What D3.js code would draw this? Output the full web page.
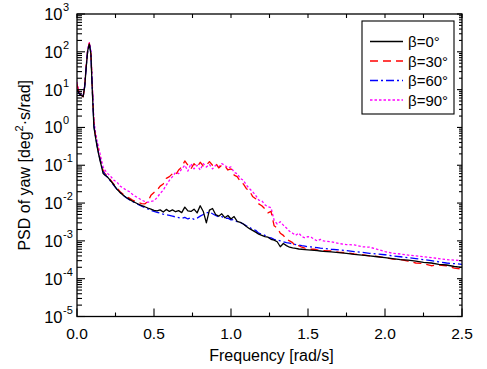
<!DOCTYPE html>
<html><head><meta charset="utf-8">
<script src="https://cdn.jsdelivr.net/npm/d3@7"></script>
<style>body{margin:0;background:#fff}svg{display:block;font-family:"Liberation Sans",Arial,sans-serif}</style>
</head><body><svg id="c" width="487" height="369"></svg>
<script>
const freq = [0,0.01,0.02,0.03,0.04,0.05,0.06,0.07,0.08,0.09,0.10,0.11,0.12,0.13,0.14,0.15,0.16,0.17,0.18,
0.20,0.22,0.24,0.26,0.28,0.30,0.32,0.34,0.36,0.38,0.40,0.42,0.44,0.46,0.48,0.50,0.52,0.54,0.56,0.58,0.60,
0.62,0.64,0.66,0.68,0.70,0.72,0.74,0.76,0.78,0.80,0.82,0.84,0.86,0.88,0.90,0.92,0.94,0.96,0.98,1.00,
1.02,1.04,1.06,1.08,1.10,1.12,1.14,1.16,1.18,1.20,1.22,1.24,1.26,1.28,1.30,1.32,1.34,1.36,1.38,1.40,
1.42,1.44,1.46,1.48,1.50,1.52,1.54,1.56,1.58,1.60,1.65,1.70,1.75,1.80,1.85,1.90,1.95,2.00,2.05,2.10,
2.15,2.20,2.25,2.30,2.35,2.40,2.45,2.50];

const beta0 = [10,8.5,7.5,7.0,6.5,12,40,110,160,90,8,1.0,0.55,0.32,0.2,0.13,0.09,0.06,0.055,
0.048,0.038,0.03,0.023,0.019,0.016,0.014,0.0125,0.0112,0.0102,0.0093,0.0086,0.008,0.0074,0.0069,0.0064,0.0062,0.0066,0.0058,0.0068,0.0060,
0.0066,0.0059,0.0063,0.0056,0.0078,0.0062,0.0060,0.0069,0.0055,0.0085,0.0060,0.0030,0.0065,0.0072,0.0050,0.0045,0.0052,0.0041,0.0047,0.0038,
0.0044,0.0033,0.0031,0.0028,0.0024,0.0021,0.0019,0.0017,0.0015,0.0014,0.0013,0.00125,0.0011,0.00105,0.00095,0.0007,0.00085,0.00075,0.00068,0.00065,
0.00063,0.00061,0.0006,0.00059,0.00058,0.00057,0.00056,0.00055,0.00054,0.00053,0.00051,0.00049,0.00047,0.00044,0.00042,0.0004,0.00038,0.00036,0.00034,0.00032,
0.00031,0.00029,0.00027,0.00026,0.00024,0.00023,0.00021,0.0002];

const beta30 = [14,9,7.5,7,6.5,12,45,120,170,100,10,1.2,0.62,0.36,0.23,0.15,0.1,0.072,0.062,
0.05,0.04,0.031,0.025,0.02,0.017,0.015,0.0135,0.012,0.011,0.0102,0.0097,0.0095,0.011,0.016,0.019,0.022,0.028,0.032,0.045,0.05,
0.06,0.055,0.075,0.09,0.13,0.1,0.08,0.11,0.09,0.12,0.095,0.1,0.125,0.1,0.115,0.085,0.1,0.095,0.075,0.08,
0.055,0.05,0.038,0.032,0.024,0.021,0.015,0.013,0.0095,0.0085,0.007,0.0055,0.006,0.0025,0.0022,0.0016,0.0014,0.0011,0.001,0.0009,
0.0007,0.00075,0.00068,0.00064,0.00062,0.0006,0.0006,0.00058,0.00056,0.00055,0.00054,0.0005,0.00049,0.00045,0.00043,0.0004,0.00039,0.00036,0.00033,0.00032,
0.00029,0.00026,0.00025,0.00022,0.00023,0.00022,0.00019,0.00018];

const beta60 = [10,8,7.5,7,6.5,12,42,115,165,95,9,1.1,0.6,0.34,0.21,0.14,0.095,0.068,0.058,
0.047,0.037,0.029,0.023,0.019,0.016,0.0138,0.0122,0.011,0.01,0.0091,0.0083,0.0076,0.007,0.0064,0.006,0.0057,0.0054,0.0051,0.0049,0.0047,
0.0045,0.0043,0.0041,0.0039,0.0042,0.0038,0.0041,0.0037,0.0040,0.0045,0.0050,0.0055,0.0058,0.0052,0.0047,0.0043,0.0044,0.0039,0.0040,0.0036,
0.0037,0.0032,0.0031,0.0028,0.0025,0.0023,0.002,0.0019,0.0016,0.0015,0.0014,0.00125,0.0012,0.0011,0.00105,0.001,0.00095,0.0009,0.00087,0.00083,
0.0008,0.00078,0.00075,0.00073,0.0007,0.00069,0.00067,0.00066,0.00064,0.00063,0.0006,0.00058,0.00055,0.00052,0.0005,0.00047,0.00045,0.00043,0.0004,0.00038,
0.00036,0.00034,0.00032,0.0003,0.00028,0.00026,0.00025,0.00024];

const beta90 = [16,10,8,7,7,13,45,120,175,110,12,1.5,0.75,0.45,0.3,0.2,0.13,0.09,0.075,
0.06,0.05,0.04,0.036,0.028,0.025,0.022,0.02,0.017,0.015,0.0135,0.012,0.011,0.0105,0.011,0.0115,0.014,0.018,0.022,0.03,0.04,
0.05,0.065,0.06,0.08,0.1,0.07,0.11,0.08,0.1,0.075,0.11,0.09,0.105,0.08,0.1,0.09,0.11,0.1,0.085,0.09,
0.065,0.06,0.045,0.04,0.03,0.024,0.02,0.016,0.012,0.0115,0.009,0.008,0.0075,0.0035,0.0028,0.0032,0.0026,0.0022,0.0018,0.0016,
0.0014,0.0016,0.0013,0.0012,0.0013,0.00125,0.0011,0.001,0.0011,0.001,0.00095,0.00085,0.0008,0.00078,0.0007,0.00068,0.0006,0.00052,0.00047,0.00045,
0.00042,0.0004,0.00038,0.00036,0.00034,0.00032,0.00031,0.0003];

const seriesNames = ["β=0°","β=30°","β=60°","β=90°"];
const seriesValues = [beta0, beta30, beta60, beta90];
const xTicks = [0,0.5,1.0,1.5,2.0,2.5];
const xTickLabels = ["0.0","0.5","1.0","1.5","2.0","2.5"];
const yExponents = [-5,-4,-3,-2,-1,0,1,2,3];

const colors = ["#000000","#ff0000","#0000ff","#ff00ff"];
const dashes = [null,"8,5","8,3,2,3","2.5,2"];

const L=77,R=462,T=14,B=316.5;
const svg = d3.select("#c");
const x = d3.scaleLinear().domain([0,2.5]).range([L,R]);
const y = d3.scaleLog().domain([1e-5,1e3]).range([B,T]);

svg.append("defs").append("clipPath").attr("id","clip").append("rect")
  .attr("x",L).attr("y",T).attr("width",R-L).attr("height",B-T);

const line = d3.line().x(d=>x(d[0])).y(d=>y(d[1]));
const g = svg.append("g").attr("clip-path","url(#clip)");
// draw in order so black on top-ish like reference
[3,1,2,0].forEach(i=>{
  g.append("path").datum(freq.map((f,k)=>[f,seriesValues[i][k]]))
   .attr("d",line).attr("fill","none").attr("stroke",colors[i])
   .attr("stroke-width",1.3).attr("stroke-linejoin","round")
   .attr("stroke-dasharray",dashes[i]);
});

// frame
svg.append("rect").attr("x",L).attr("y",T).attr("width",R-L).attr("height",B-T)
  .attr("fill","none").attr("stroke","#000").attr("stroke-width",1.3);

// x ticks
const xMinor = d3.range(0,2.51,0.25);
const ax = svg.append("g").attr("stroke","#000").attr("stroke-width",1.1);
xMinor.forEach(v=>{
  const isMaj = Math.abs(v*2-Math.round(v*2))<1e-6;
  ax.append("line").attr("x1",x(v)).attr("x2",x(v)).attr("y1",B).attr("y2",B-(isMaj?8:4));
  ax.append("line").attr("x1",x(v)).attr("x2",x(v)).attr("y1",T).attr("y2",T+4);
});
// y ticks
yExponents.forEach(e=>{
  ax.append("line").attr("x1",L).attr("x2",L+8).attr("y1",y(Math.pow(10,e))).attr("y2",y(Math.pow(10,e)));
  ax.append("line").attr("x1",R).attr("x2",R-5).attr("y1",y(Math.pow(10,e))).attr("y2",y(Math.pow(10,e)));
  if(e<3){
    for(let m=2;m<=9;m++){
      const v=m*Math.pow(10,e);
      ax.append("line").attr("x1",L).attr("x2",L+5).attr("y1",y(v)).attr("y2",y(v));
      ax.append("line").attr("x1",R).attr("x2",R-3).attr("y1",y(v)).attr("y2",y(v));
    }
  }
});

// x labels
xTicks.forEach((v,i)=>{
  svg.append("text").attr("x",x(v)).attr("y",339).attr("text-anchor","middle")
    .attr("font-size",15.5).text(xTickLabels[i]);
});
// y labels
yExponents.forEach(e=>{
  const yy=y(Math.pow(10,e));
  svg.append("text").attr("x",62.5).attr("y",yy+6).attr("text-anchor","end")
    .attr("font-size",16.5).text("10");
  svg.append("text").attr("x",63).attr("y",yy-3).attr("text-anchor","start")
    .attr("font-size",11).text(e<0?"-"+Math.abs(e):String(e));
});

// axis titles
svg.append("text").attr("x",(L+R)/2+2).attr("y",361).attr("text-anchor","middle")
  .attr("font-size",16).text("Frequency [rad/s]");
const yt = svg.append("text").attr("transform",`translate(30,${(T+B)/2}) rotate(-90)`)
  .attr("text-anchor","middle").attr("font-size",16);
yt.append("tspan").text("PSD of yaw [deg");
yt.append("tspan").attr("font-size",11).attr("dy",-7).text("2");
yt.append("tspan").attr("dy",7).text("·s/rad]");

// legend
svg.append("rect").attr("x",362).attr("y",21).attr("width",92).attr("height",93)
  .attr("fill","#fff").attr("stroke","#000").attr("stroke-width",1.1);
seriesNames.forEach((n,i)=>{
  const yy = 41.5+i*19.5;
  svg.append("line").attr("x1",370).attr("x2",403).attr("y1",yy).attr("y2",yy)
    .attr("stroke",colors[i]).attr("stroke-width",1.3).attr("stroke-dasharray",dashes[i]);
  svg.append("text").attr("x",408).attr("y",yy+5.5).attr("font-size",15).text(n);
});
</script></body></html>
